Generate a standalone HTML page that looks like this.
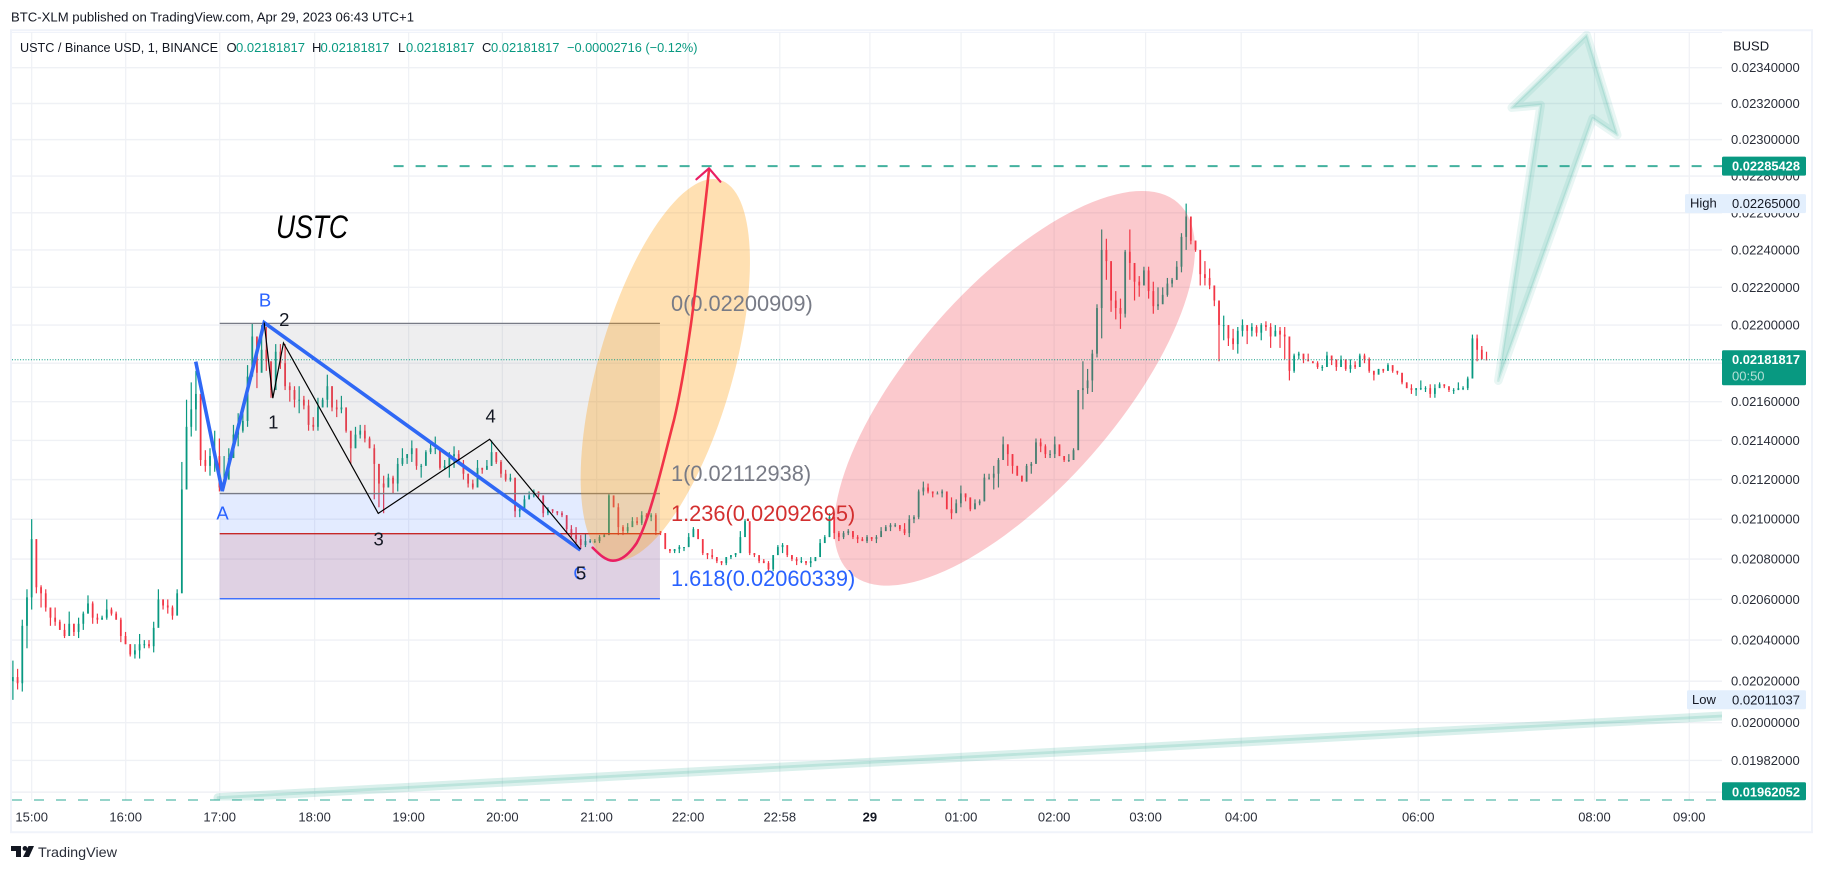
<!DOCTYPE html>
<html lang="en">
<head>
<meta charset="utf-8">
<title>USTC / Binance USD chart</title>
<style>
html,body{margin:0;padding:0;background:#fff;width:1823px;height:871px;overflow:hidden}
svg{display:block;font-family:"Liberation Sans",sans-serif}
</style>
</head>
<body>
<svg id="chart" xmlns="http://www.w3.org/2000/svg" width="1823" height="871" viewBox="0 0 1823 871">
  <defs>
    <clipPath id="plot-clip"><rect x="12" y="31" width="1710" height="769.5"/></clipPath>
    <linearGradient id="curve-gradient" gradientUnits="userSpaceOnUse" x1="600" y1="560" x2="700" y2="170">
      <stop offset="0" stop-color="#e91e63"/><stop offset="0.3" stop-color="#f23645"/><stop offset="1" stop-color="#f23645"/>
    </linearGradient>
  </defs>
  <rect x="0" y="0" width="1823" height="871" fill="#ffffff"/>
  <text x="11" y="21.5" font-size="13" fill="#131722" textLength="403" lengthAdjust="spacingAndGlyphs">BTC-XLM published on TradingView.com, Apr 29, 2023 06:43 UTC+1</text>
  <rect x="11" y="30.2" width="1801" height="802" fill="#ffffff" stroke="#f0f3fa" stroke-width="2"/>
  <line x1="12" y1="32.5" x2="1722" y2="32.5" stroke="#f0f3fa" stroke-width="1"/>

  <g id="grid-layer"></g>
  <g id="candle-layer" clip-path="url(#plot-clip)"></g>
  <g id="fib-layer" clip-path="url(#plot-clip)"></g>

  <ellipse cx="665.3" cy="369.9" rx="67.4" ry="197.7" transform="rotate(16 665.3 369.9)" fill="#ff9800" fill-opacity="0.3"/>
  <ellipse cx="1014.5" cy="388.3" rx="102" ry="247.2" transform="rotate(41.4 1014.5 388.3)" fill="#f23645" fill-opacity="0.27"/>

  <g id="line-layer" clip-path="url(#plot-clip)"></g>

  <g clip-path="url(#plot-clip)">
    <line x1="218" y1="797.7" x2="1722" y2="716" stroke="#089981" stroke-opacity="0.15" stroke-width="9" stroke-linecap="round"/>
    <line x1="218" y1="797.7" x2="1722" y2="716" stroke="#089981" stroke-opacity="0.14" stroke-width="2.8" stroke-linecap="round"/>
  </g>

  <g clip-path="url(#plot-clip)">
    <polygon points="1498.3,380.7 1540.7,105 1511.7,107.7 1586.7,35 1617.3,135 1592.7,118.3" fill="#089981" fill-opacity="0.16" stroke="#089981" stroke-opacity="0.09" stroke-width="8.5" stroke-linejoin="round"/>
    <polygon points="1498.3,380.7 1540.7,105 1511.7,107.7 1586.7,35 1617.3,135 1592.7,118.3" fill="none" stroke="#089981" stroke-opacity="0.11" stroke-width="2.8" stroke-linejoin="round"/>
  </g>

  <g id="wave-layer"></g>

  <path d="M592.7,547.7 C598,553 605,560.7 613,560.7 C622,560.7 630,553 636.7,543 C645,528 652,503 656.7,486.7 C662,468 670,435 674,420 C680,395 686,359 691,324 C697,280 703,225 709,170" fill="none" stroke="url(#curve-gradient)" stroke-width="2.6" stroke-linecap="round"/>
  <polyline points="696.4,179.3 709,168.3 720.4,181.7" fill="none" stroke="#e91e63" stroke-width="2.2" stroke-linecap="round" stroke-linejoin="round"/>

  <text x="276" y="238" font-size="32" font-style="italic" fill="#000000" textLength="72" lengthAdjust="spacingAndGlyphs">USTC</text>

  <g font-size="18.5" text-anchor="middle">
    <text x="222.5" y="519.5" fill="#2962ff">A</text>
    <text x="265" y="306.5" fill="#2962ff">B</text>
    <text x="580" y="579.5" fill="#2962ff">C</text>
    <text x="273.3" y="428.5" fill="#131722">1</text>
    <text x="284.3" y="326" fill="#131722">2</text>
    <text x="378.7" y="545.5" fill="#131722">3</text>
    <text x="490.7" y="422.5" fill="#131722">4</text>
    <text x="581" y="579.5" fill="#131722">5</text>
  </g>

  <g font-size="13">
    <text x="20" y="52" fill="#131722" textLength="198" lengthAdjust="spacingAndGlyphs">USTC / Binance USD, 1, BINANCE</text>
    <text x="226.5" y="52" fill="#131722">O</text>
    <text x="236" y="52" fill="#089981" textLength="69" lengthAdjust="spacingAndGlyphs">0.02181817</text>
    <text x="312" y="52" fill="#131722">H</text>
    <text x="320.5" y="52" fill="#089981" textLength="69" lengthAdjust="spacingAndGlyphs">0.02181817</text>
    <text x="398" y="52" fill="#131722">L</text>
    <text x="406" y="52" fill="#089981" textLength="68.5" lengthAdjust="spacingAndGlyphs">0.02181817</text>
    <text x="482" y="52" fill="#131722">C</text>
    <text x="491" y="52" fill="#089981" textLength="68.5" lengthAdjust="spacingAndGlyphs">0.02181817</text>
    <text x="567" y="52" fill="#089981" textLength="130.5" lengthAdjust="spacingAndGlyphs">−0.00002716 (−0.12%)</text>
  </g>

  <g id="y-axis" font-size="13" fill="#2a2e39"></g>
  <g id="x-axis" font-size="13" fill="#2a2e39" text-anchor="middle"></g>
  <text x="1733" y="50.5" font-size="13" fill="#131722">BUSD</text>

  <g id="badge-layer"></g>

  <g>
    <path d="M11,846 H21 V857 H16 V851 H11 Z" fill="#131722"/>
    <circle cx="25" cy="848.4" r="2.4" fill="#131722"/>
    <polygon points="28.5,846 34,846 29,857 23,857" fill="#131722"/>
    <text x="38" y="857" font-size="14" fill="#2a2e39" textLength="79" lengthAdjust="spacingAndGlyphs">TradingView</text>
  </g>
</svg>

<script>
// Price axis values
const priceTicks = [0.0234,0.0232,0.0230,0.0228,0.0226,0.0224,0.0222,0.0220,0.0218,0.0216,0.0214,0.0212,0.0210,0.0208,0.0206,0.0204,0.0202,0.0200,0.01982];
const priceTickLabels = ["0.02340000","0.02320000","0.02300000","0.02280000","0.02260000","0.02240000","0.02220000","0.02200000","0.02180000","0.02160000","0.02140000","0.02120000","0.02100000","0.02080000","0.02060000","0.02040000","0.02020000","0.02000000","0.01982000"];
const unlabeledGridPrices = [0.01967];

// Time axis values (minutes of plotted bars since 15:00)
const timeTickMinutes = [0,60,120,180.6,240.6,300.4,360.6,419,477.5,535,593.2,652.6,711,772,885,997.5,1058];
const timeTickLabels = ["15:00","16:00","17:00","18:00","19:00","20:00","21:00","22:00","22:58","29","01:00","02:00","03:00","04:00","06:00","08:00","09:00"];

// Candles: about 3-minute aggregates, prices in units of 0.00001
const candleStartMinute = -12;
const minutesPerCandle = 2.9955;
const firstOpen = 2020;
const candleHighs = [
2030,2026,2050,2065,2100,2082,2067,2065,2056,2056,2050,2048,2054,2048,2051,2054,2062,2059,2053,2052,2060,2056,2054,2051,2044,2038,2038,2043,2040,2040,2049,2065,2060,2060,2057,2065,2129,2161,2170,2176,2147,2135,2136,2145,2141,
2132,2136,2148,2154,2154,2179,2201,2194,2200,2199,2180,2190,2190,2190,2170,2168,2168,2163,2161,2152,2162,2162,2174,2168,2161,2163,2157,2144,2147,2148,2148,2142,2138,2128,2122,2123,2122,2131,2136,2133,2140,2133,2128,2135,2139,2142,2136,2130,2134,2137,2135,2130,2123,2120,2130,2126,2130,2140,2134,2130,2125,2123,
2114,2107,2112,2114,2115,2114,2110,2106,2105,2104,2104,2102,2097,2096,2092,2093,2090,2090,2092,2093,2113,2109,2108,2097,2098,2101,2101,2104,2103,2103,2103,2094,2093,2085,2085,2087,2086,2093,2096,2095,2089,2083,2085,2081,2079,2081,2082,2083,2094,2100,2095,2083,2081,2080,2079,2082,2087,2088,2086,2082,2081,2081,2079,2081,2081,2090,2092,2103,2103,2094,2094,2095,2094,2092,2091,2092,2091,2092,2096,2097,
2098,2098,2097,2098,2102,2102,2115,2119,2118,2114,2114,2115,2111,2111,2110,2117,2113,2109,2110,2110,2123,2123,2127,2131,2142,2138,2133,2127,2122,2128,2129,2141,2141,2138,2135,2142,2137,2132,2133,2136,2166,2181,2177,2187,2211,2251,2246,2233,2218,2214,2240,2251,2231,2226,2231,2231,2223,2220,2220,2225,2225,2234,2249,2265,2257,2245,
2233,2234,2230,2218,2211,2205,2200,2198,2199,2203,2200,2201,2200,2201,2202,2201,2200,2199,2199,2182,2185,2186,2183,2185,2181,2181,2179,2186,2184,2181,2184,2182,2182,2181,2185,2185,2183,2176,2177,2177,2180,2177,2176,2172,2170,2169,2167,2171,2168,2169,2169,2170,2169,2166,2167,2170,2168,2173,2195,2195,2189,2186];
const candleLows = [
2011,2016,2015,2036,2055,2063,2056,2054,2047,2047,2045,2041,2043,2042,2041,2045,2053,2048,2048,2050,2050,2052,2050,2039,2038,2032,2031,2031,2036,2036,2034,2049,2055,2053,2050,2056,2065,2115,2142,2145,2127,2124,2122,2124,2114,
2118,2121,2132,2137,2144,2147,2179,2167,2180,2176,2162,2171,2177,2166,2160,2157,2154,2156,2145,2145,2145,2157,2157,2155,2152,2154,2144,2128,2136,2141,2139,2136,2110,2106,2103,2116,2113,2114,2127,2128,2129,2125,2121,2128,2133,2133,2125,2125,2121,2126,2128,2120,2116,2115,2119,2123,2125,2127,2128,2121,2119,2119,
2101,2101,2105,2110,2111,2111,2101,2102,2103,2102,2101,2093,2091,2088,2085,2086,2088,2088,2088,2091,2092,2106,2092,2092,2093,2097,2097,2097,2099,2099,2092,2092,2085,2083,2083,2083,2084,2086,2091,2090,2082,2080,2080,2078,2077,2077,2080,2081,2083,2094,2082,2081,2078,2078,2074,2074,2082,2083,2081,2079,2077,2078,2077,2076,2079,2083,2089,2091,2090,2089,2090,2092,2090,2088,2089,2088,2089,2088,2092,2094,
2094,2096,2094,2092,2091,2098,2100,2112,2113,2111,2113,2111,2105,2100,2106,2106,2109,2104,2105,2107,2109,2120,2115,2116,2133,2127,2123,2122,2119,2119,2123,2130,2134,2131,2131,2131,2132,2129,2129,2130,2136,2156,2164,2165,2183,2193,2224,2207,2203,2198,2204,2224,2213,2215,2221,2214,2206,2208,2212,2215,2220,2224,2228,2240,2243,2239,
2221,2221,2219,2210,2181,2192,2189,2187,2185,2194,2190,2194,2194,2192,2197,2188,2195,2188,2182,2171,2175,2182,2180,2181,2180,2177,2176,2179,2179,2176,2181,2176,2175,2177,2178,2180,2175,2171,2175,2175,2176,2175,2174,2169,2167,2164,2163,2166,2165,2162,2162,2168,2167,2165,2164,2166,2166,2166,2174,2181,2182,2182];
const candleCloses = [
2022,2019,2047,2061,2090,2066,2063,2056,2051,2049,2045,2042,2048,2044,2048,2053,2058,2051,2050,2051,2055,2053,2050,2042,2038,2033,2035,2038,2038,2037,2046,2060,2057,2056,2052,2063,2115,2147,2156,2164,2130,2127,2132,2132,2116,
2120,2131,2143,2145,2150,2173,2194,2175,2187,2181,2166,2186,2180,2168,2166,2161,2161,2158,2148,2147,2157,2161,2168,2157,2156,2157,2145,2136,2143,2145,2141,2136,2128,2118,2116,2121,2118,2128,2131,2133,2136,2127,2127,2134,2136,2136,2126,2127,2132,2133,2128,2123,2118,2116,2126,2125,2127,2134,2129,2123,2120,2121,
2104,2105,2110,2112,2114,2112,2103,2105,2104,2103,2102,2095,2092,2090,2087,2089,2089,2089,2091,2092,2112,2106,2096,2094,2096,2099,2098,2102,2101,2102,2094,2093,2085,2084,2085,2086,2086,2091,2095,2090,2083,2082,2081,2079,2078,2081,2082,2083,2091,2099,2083,2082,2079,2078,2075,2082,2086,2087,2082,2080,2079,2079,2078,2079,2081,2088,2091,2101,2093,2091,2093,2094,2091,2090,2089,2091,2090,2091,2094,2096,
2097,2097,2095,2093,2100,2101,2114,2116,2114,2113,2113,2114,2105,2103,2108,2113,2111,2105,2108,2109,2121,2121,2123,2130,2138,2133,2127,2122,2119,2127,2128,2139,2137,2133,2133,2138,2132,2130,2130,2135,2166,2167,2171,2185,2209,2240,2234,2213,2209,2206,2239,2233,2223,2221,2229,2218,2210,2211,2216,2222,2224,2231,2247,2258,2245,2240,
2227,2225,2221,2213,2200,2200,2193,2190,2197,2200,2197,2199,2196,2200,2199,2194,2197,2195,2194,2176,2184,2185,2182,2181,2180,2178,2178,2184,2182,2178,2182,2177,2179,2178,2184,2182,2176,2174,2177,2176,2179,2176,2175,2170,2167,2166,2167,2167,2167,2164,2167,2169,2168,2166,2166,2167,2167,2172,2193,2187,2182,2181.817];

// Fibonacci levels
const fibPrices = [0.02200909,0.02112938,0.02092695,0.02060339];
const fibRatios = ["0","1","1.236","1.618"];
const fibStartMinute = 120;
const fibEndMinute = 401;

// Wave drawings (minute, price pairs kept in separate arrays)
const abcMinutes = [104.7,121.6,148.4,350.2];
const abcPrices = [0.02180800,0.02114200,0.02201300,0.02084500];
const impulseMinutes = [148.4,153.9,160.7,221.2,292.3,350.3];
const impulsePrices = [0.02201300,0.02161800,0.02190600,0.02102900,0.02140600,0.02084900];

// Horizontal price levels
const currentPrice = 0.02181817;
const targetPrice = 0.02285428;
const supportPrice = 0.01962052;
const highPrice = 0.02265000;
const lowPrice = 0.02011037;
const countdownLabel = "00:50";
const targetLineStartMinute = 231;

const SVG_NS = "http://www.w3.org/2000/svg";
const PLOT_LEFT = 12, PLOT_RIGHT = 1722, PLOT_TOP = 31, PLOT_BOTTOM = 800.3;

function xOfMinute(minute) { return 31.7 + minute * 1.5667; }
function yOfPrice(price) { return Math.min(PLOT_BOTTOM, 67.7 + 4172 * Math.log(0.0234 / price)); }

function make(tag, attrs, parent, text) {
  const el = document.createElementNS(SVG_NS, tag);
  for (const key in attrs) el.setAttribute(key, attrs[key]);
  if (text !== undefined) el.textContent = text;
  parent.appendChild(el);
  return el;
}

const gridLayer = document.getElementById("grid-layer");
const yAxis = document.getElementById("y-axis");
const xAxis = document.getElementById("x-axis");
const candleLayer = document.getElementById("candle-layer");
const fibLayer = document.getElementById("fib-layer");
const lineLayer = document.getElementById("line-layer");
const waveLayer = document.getElementById("wave-layer");
const badgeLayer = document.getElementById("badge-layer");

priceTicks.concat(unlabeledGridPrices).forEach(function (price) {
  const y = yOfPrice(price);
  const el = make("line", {x1: PLOT_LEFT, x2: PLOT_RIGHT, y1: y, y2: y, stroke: "#eff1f5", "stroke-width": 1.4}, gridLayer);
  
  
});

timeTickMinutes.forEach(function (minute) {
  const x = xOfMinute(minute);
  const el = make("line", {x1: x, x2: x, y1: 32, y2: PLOT_BOTTOM, stroke: "#eff1f5", "stroke-width": 1.2}, gridLayer);
  
  
});

priceTicks.forEach(function (price, i) {
  const el = make("text", {x: 1731, y: yOfPrice(price) + 4.5}, yAxis, priceTickLabels[i]);
  
  
});

timeTickMinutes.forEach(function (minute, i) {
  const label = timeTickLabels[i];
  const attrs = {x: xOfMinute(minute), y: 821.5};
  if (label === "29") { attrs["font-weight"] = "bold"; attrs.fill = "#131722"; }
  const el = make("text", attrs, xAxis, label);
  
  
});

candleCloses.forEach(function (close, i) {
  const open = i === 0 ? firstOpen : candleCloses[i - 1];
  const x = xOfMinute(candleStartMinute + i * minutesPerCandle);
  const color = close >= open ? "#089981" : "#f23645";
  const wick = make("line", {x1: x, x2: x, y1: yOfPrice(candleHighs[i] / 1e5), y2: yOfPrice(candleLows[i] / 1e5), stroke: color, "stroke-width": 1.2}, candleLayer);
  
  
  const top = yOfPrice(Math.max(open, close) / 1e5);
  const bottom = yOfPrice(Math.min(open, close) / 1e5);
  const body = make("rect", {x: x - 0.9, y: top, width: 1.8, height: Math.max(1, bottom - top), fill: color}, candleLayer);
  
  
});

const fibLeft = xOfMinute(fibStartMinute);
const fibRight = xOfMinute(fibEndMinute);
const fibFills = ["#787b86", "#2962ff", "#2962ff"];
const fibStrokes = ["#787b86", "#787b86", "#c62828", "#2962ff"];
const fibTextColors = ["#787b86", "#787b86", "#d32f2f", "#2962ff"];
const fibTextBaselines = [311, 481, 521, 586];

for (let i = 0; i < fibPrices.length - 1; i++) {
  const band = make("rect", {x: fibLeft, width: fibRight - fibLeft, y: yOfPrice(fibPrices[i]), height: yOfPrice(fibPrices[i + 1]) - yOfPrice(fibPrices[i]), fill: fibFills[i], "fill-opacity": 0.13}, fibLayer);
  
  
}
const fibOverlap = make("rect", {x: fibLeft, width: fibRight - fibLeft, y: yOfPrice(fibPrices[2]), height: yOfPrice(fibPrices[3]) - yOfPrice(fibPrices[2]), fill: "#c62828", "fill-opacity": 0.13}, fibLayer);


fibPrices.forEach(function (price, i) {
  const y = yOfPrice(price);
  const level = make("line", {x1: fibLeft, x2: fibRight, y1: y, y2: y, stroke: fibStrokes[i], "stroke-width": 1.3}, fibLayer);
  
  
});

const targetY = yOfPrice(targetPrice);
const targetLine = make("line", {x1: xOfMinute(targetLineStartMinute), x2: PLOT_RIGHT, y1: targetY, y2: targetY, stroke: "#089981", "stroke-opacity": 0.76, "stroke-width": 2, "stroke-dasharray": "10 12"}, lineLayer);



const supportY = yOfPrice(supportPrice);
const supportLine = make("line", {x1: PLOT_LEFT, x2: PLOT_RIGHT, y1: supportY, y2: supportY, stroke: "#089981", "stroke-opacity": 0.85, "stroke-width": 1.5, "stroke-dasharray": "10 12"}, lineLayer);



const currentY = yOfPrice(currentPrice);
const currentLine = make("line", {x1: PLOT_LEFT, x2: PLOT_RIGHT, y1: currentY, y2: currentY, stroke: "#089981", "stroke-width": 1, "stroke-dasharray": "1 1.7"}, lineLayer);



function wavePoints(minutes, prices) {
  return minutes.map(function (m, i) { return xOfMinute(m) + "," + yOfPrice(prices[i]); }).join(" ");
}
const abcLine = make("polyline", {points: wavePoints(abcMinutes, abcPrices), fill: "none", stroke: "#2f68f5", "stroke-width": 3.6, "stroke-linejoin": "miter"}, waveLayer);


const impulseLine = make("polyline", {points: wavePoints(impulseMinutes, impulsePrices), fill: "none", stroke: "#000000", "stroke-width": 1.2}, waveLayer);



fibPrices.forEach(function (price, i) {
  const label = fibRatios[i] + "(" + price.toFixed(8) + ")";
  const el = make("text", {x: 671, y: fibTextBaselines[i], "font-size": 21.8, fill: fibTextColors[i]}, waveLayer, label);
  
  
});

function badge(price, label, fill, color, boxLeft, boxHeight, caption, extra) {
  const y = yOfPrice(price);
  const top = Math.min(y - 9.5, PLOT_BOTTOM - boxHeight);
  const rect = make("rect", {x: boxLeft, y: top, width: 1806 - boxLeft, height: boxHeight, fill: fill, rx: 1.5}, badgeLayer);
  
  
  const txt = make("text", {x: 1732, y: top + 14, "font-size": 13, fill: color, "font-weight": fill === "#089981" ? "bold" : "normal", textLength: 68, lengthAdjust: "spacingAndGlyphs"}, badgeLayer, label);
  
  
  if (caption) {
    const cap = make("text", {x: boxLeft + 5, y: top + 13.5, "font-size": 13, fill: "#131722"}, badgeLayer, caption);
    
    
  }
  if (extra) {
    const ext = make("text", {x: 1732, y: top + 30.5, "font-size": 13, fill: "#b4e0d6"}, badgeLayer, extra);
    
    
  }
}
badge(targetPrice, targetPrice.toFixed(8), "#089981", "#ffffff", 1722, 19);
badge(highPrice, highPrice.toFixed(8), "#e3effd", "#131722", 1685, 19, "High");
badge(currentPrice, currentPrice.toFixed(8), "#089981", "#ffffff", 1722, 35, null, countdownLabel);
badge(lowPrice, lowPrice.toFixed(8), "#e3effd", "#131722", 1687, 19, "Low");
badge(supportPrice, supportPrice.toFixed(8), "#089981", "#ffffff", 1722, 18);
</script>
</body>
</html>
